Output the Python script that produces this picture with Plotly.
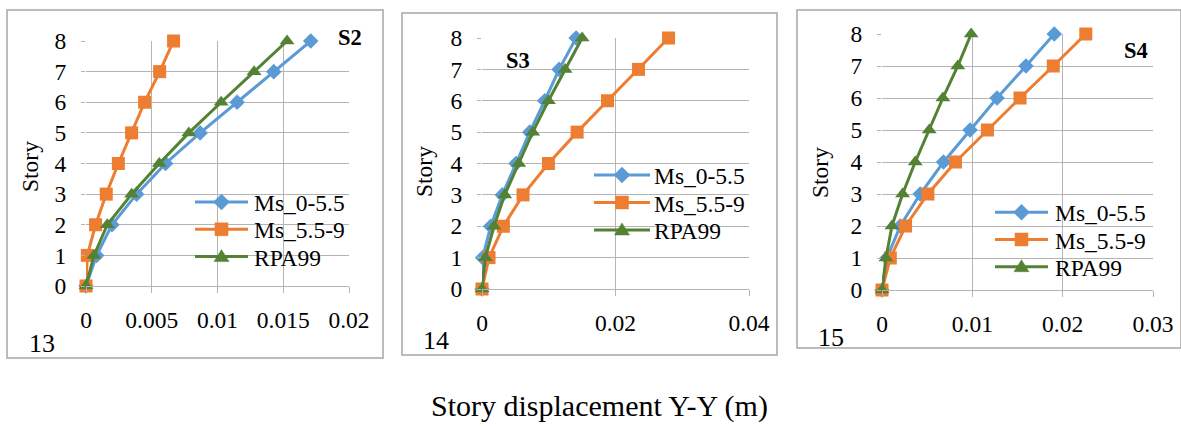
import plotly.graph_objects as go

W, H = 1181, 426

stories = [0, 1, 2, 3, 4, 5, 6, 7, 8]
series_names = ["Ms_0-5.5", "Ms_5.5-9", "RPA99"]

# S2 panel
s2_ms0 = [0, 0.00081, 0.00197, 0.00385, 0.00605, 0.00868, 0.01149, 0.01428, 0.01709]
s2_ms55 = [0, 0.0001, 0.00073, 0.00154, 0.00246, 0.00347, 0.00446, 0.0056, 0.00666]
s2_rpa = [0, 0.00061, 0.00162, 0.00347, 0.00557, 0.00782, 0.01028, 0.01278, 0.01529]
# S3 panel
s3_ms0 = [0, 0.0001, 0.0013, 0.00305, 0.0051, 0.00715, 0.0094, 0.01155, 0.0141]
s3_ms55 = [0, 0.00105, 0.0032, 0.00615, 0.00995, 0.01425, 0.0188, 0.02345, 0.02795]
s3_rpa = [0, 0.0005, 0.0018, 0.0034, 0.0055, 0.0076, 0.00995, 0.01245, 0.015]
# S4 panel
s4_ms0 = [0, 0.00055, 0.00202, 0.00423, 0.00681, 0.00975, 0.01274, 0.01594, 0.01907]
s4_ms55 = [0, 0.00092, 0.00261, 0.00508, 0.00813, 0.01167, 0.01528, 0.01896, 0.02256]
s4_rpa = [0, 0.00044, 0.0011, 0.00228, 0.00368, 0.00523, 0.00674, 0.00839, 0.00987]

panel_titles = ["S2", "S3", "S4"]
panel_numbers = ["13", "14", "15"]
x_ticks = [[0, 0.005, 0.01, 0.015, 0.02], [0, 0.02, 0.04], [0, 0.01, 0.02, 0.03]]
x_ticktext = [["0", "0.005", "0.01", "0.015", "0.02"], ["0", "0.02", "0.04"], ["0", "0.01", "0.02", "0.03"]]
y_ticks = [0, 1, 2, 3, 4, 5, 6, 7, 8]
x_title = "Story displacement Y-Y (m)"
y_title = "Story"

data = [
    [s2_ms0, s2_ms55, s2_rpa],
    [s3_ms0, s3_ms55, s3_rpa],
    [s4_ms0, s4_ms55, s4_rpa],
]

colors = ["#5B9BD5", "#ED7D31", "#548235"]
symbols = ["diamond", "square", "triangle-up"]
msizes = [12, 13, 13]

FONT = "Liberation Serif"
FS = 23.5
GRID = "#b4b4b4"
BOX = "#a6a6a6"

# layout geometry in pixels
plot_px = [  # (x0, x1, y_top, y_bottom)
    (86, 349, 41, 286),
    (482, 749, 38, 289),
    (882, 1153, 34, 290),
]
box_px = [(7, 383, 10, 358), (402, 777, 13, 355), (797, 1181, 10, 348)]
# legend: (line x0, line x1, text x, first row y, row step)
legend_px = [(195, 248, 252, 202, 27.3), (594, 650, 652, 175, 27.5), (995, 1048, 1053, 212.3, 27.2)]
stitle_px = [(350, 37), (518, 60), (1136, 50)]
num_px = [(42, 343), (436, 340), (831, 337)]
ytitle_px = [(30, 167), (424, 172), (820, 172)]

def px(x):
    return x / W

def py(y):
    return 1 - y / H

def glyph_path(kind, cx, cy):
    if kind == "diamond":
        pts = [(cx, cy - 8), (cx + 8, cy), (cx, cy + 8), (cx - 8, cy)]
    elif kind == "square":
        pts = [(cx - 6.5, cy - 6.5), (cx + 6.5, cy - 6.5), (cx + 6.5, cy + 6.5), (cx - 6.5, cy + 6.5)]
    else:
        pts = [(cx, cy - 7), (cx + 7.5, cy + 5), (cx - 7.5, cy + 5)]
    s = "M" + " L".join(f"{px(a):.6f},{py(b):.6f}" for a, b in pts) + " Z"
    return s

fig = go.Figure()
layout = dict(
    width=W, height=H,
    margin=dict(l=0, r=0, t=0, b=0, pad=0, autoexpand=False),
    paper_bgcolor="white", plot_bgcolor="white",
    font=dict(family=FONT, size=FS, color="black"),
    showlegend=False,
    shapes=[], annotations=[],
)

for i in range(3):
    sfx = "" if i == 0 else str(i + 1)
    for j in range(3):
        fig.add_trace(go.Scatter(
            x=data[i][j], y=stories, name=series_names[j],
            mode="lines+markers",
            line=dict(color=colors[j], width=3),
            marker=dict(color=colors[j], symbol=symbols[j], size=msizes[j]),
            xaxis="x" + sfx, yaxis="y" + sfx,
            cliponaxis=False, showlegend=False,
        ))
    x0, x1, yt, yb = plot_px[i]
    xr = [x_ticks[i][0], x_ticks[i][-1]]
    layout["xaxis" + sfx] = dict(
        domain=[px(x0), px(x1)], range=xr, anchor="y" + sfx,
        tickvals=x_ticks[i], ticktext=x_ticktext[i],
        showgrid=True, gridcolor=GRID, gridwidth=1.3,
        showline=True, linecolor=GRID, linewidth=1.3,
        ticks="outside", ticklen=6, tickcolor=GRID, tickwidth=1.3,
        zeroline=False, ticklabelstandoff=7, automargin=False,
        tickfont=dict(family=FONT, size=FS),
    )
    layout["yaxis" + sfx] = dict(
        domain=[py(yb), py(yt)], range=[0, 8], anchor="x" + sfx,
        tickvals=y_ticks,
        showgrid=True, gridcolor=GRID, gridwidth=1.3,
        showline=False, zeroline=False,
        ticks="outside", ticklen=4, tickcolor=GRID, tickwidth=1.3,
        ticklabelstandoff=10, automargin=False,
        tickfont=dict(family=FONT, size=FS),
    )
    # legend (drawn manually to match the original row spacing)
    lx0, lx1, ltx, ly0, lstep = legend_px[i]
    for j in range(3):
        ry = ly0 + j * lstep
        layout["shapes"].append(dict(
            type="line", xref="paper", yref="paper",
            x0=px(lx0), x1=px(lx1), y0=py(ry), y1=py(ry),
            line=dict(color=colors[j], width=3),
        ))
        layout["shapes"].append(dict(
            type="path", xref="paper", yref="paper",
            path=glyph_path(symbols[j], (lx0 + lx1) / 2, ry),
            fillcolor=colors[j], line=dict(color=colors[j], width=0.5),
        ))
        layout["annotations"].append(dict(
            text=series_names[j], x=px(ltx), y=py(ry + 1),
            xref="paper", yref="paper", showarrow=False,
            font=dict(family=FONT, size=FS), xanchor="left", yanchor="middle",
        ))
    bx0, bx1, by0, by1 = box_px[i]
    layout["shapes"].append(dict(
        type="rect", xref="paper", yref="paper",
        x0=px(bx0), x1=px(bx1), y0=py(by1), y1=py(by0),
        line=dict(color=BOX, width=1.5), layer="below",
    ))
    sx, sy = stitle_px[i]
    layout["annotations"].append(dict(
        text="<b>" + panel_titles[i] + "</b>", x=px(sx), y=py(sy),
        xref="paper", yref="paper", showarrow=False,
        font=dict(family=FONT, size=22.5), xanchor="center", yanchor="middle",
    ))
    nx, ny = num_px[i]
    layout["annotations"].append(dict(
        text=panel_numbers[i], x=px(nx), y=py(ny),
        xref="paper", yref="paper", showarrow=False,
        font=dict(family=FONT, size=26), xanchor="center", yanchor="middle",
    ))
    tx, ty = ytitle_px[i]
    layout["annotations"].append(dict(
        text=y_title, x=px(tx), y=py(ty), textangle=-90,
        xref="paper", yref="paper", showarrow=False,
        font=dict(family=FONT, size=FS), xanchor="center", yanchor="middle",
    ))

layout["annotations"].append(dict(
    text=x_title, x=px(599), y=py(406), xref="paper", yref="paper",
    showarrow=False, font=dict(family=FONT, size=30),
    xanchor="center", yanchor="middle",
))

fig.update_layout(**layout)
fig.write_html("out.html")
